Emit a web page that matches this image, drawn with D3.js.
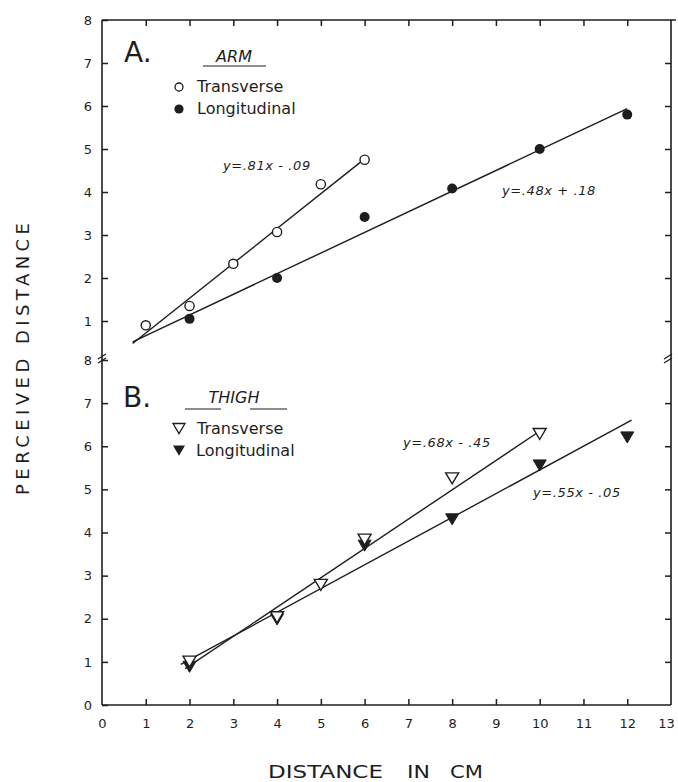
<!DOCTYPE html>
<html>
<head>
<meta charset="utf-8">
<script src="https://cdn.jsdelivr.net/npm/d3@7"></script>
<style>
  html, body { margin: 0; padding: 0; background: #fff; }
  svg { display: block; }
  text { font-family: "DejaVu Sans", sans-serif; fill: #1e1e1e; }
</style>
</head>
<body>
<svg id="chart" width="678" height="782"></svg>
<script>
// ---------- data ----------
const xTickValues = d3.range(0, 14);
const yTicksTop = [1, 2, 3, 4, 5, 6, 7, 8];
const yTicksBottom = [0, 1, 2, 3, 4, 5, 6, 7, 8];

// Panel A: ARM
const armTransX = [1, 2, 3, 4, 5, 6];
const armTransY = [0.9, 1.35, 2.33, 3.07, 4.18, 4.75];
const armLongX = [2, 4, 6, 8, 10, 12];
const armLongY = [1.05, 2.0, 3.42, 4.08, 5.0, 5.8];

// Panel B: THIGH
const thighTransX = [2, 4, 5, 6, 8, 10];
const thighTransY = [1.02, 2.05, 2.8, 3.85, 5.27, 6.3];
const thighLongX = [2, 4, 6, 8, 10, 12];
const thighLongY = [0.9, 2.0, 3.71, 4.32, 5.57, 6.22];

// fitted lines: slope, intercept, x-extent
const armFitSlopes = [0.81, 0.48];
const armFitIntercepts = [-0.09, 0.18];
const armFitFrom = [0.7, 0.7];
const armFitTo = [6.05, 12.0];
const armFitLabels = ["y=.81x - .09", "y=.48x + .18"];

const thighFitSlopes = [0.68, 0.55];
const thighFitIntercepts = [-0.45, -0.05];
const thighFitFrom = [1.9, 1.8];
const thighFitTo = [10.1, 12.1];
const thighFitLabels = ["y=.68x - .45", "y=.55x - .05"];

const seriesNames = ["Transverse", "Longitudinal"];
const xTitleWords = ["DISTANCE", "IN", "CM"];
const yTitle = "PERCEIVED DISTANCE";

// ---------- layout ----------
const ink = "#1e1e1e";
const svg = d3.select("#chart");
const pL = 102, pR = 671, pT = 20, pB = 705;

const x = d3.scaleLinear().domain([0, 13]).range([pL, pR]);
const yA = d3.scaleLinear().domain([0, 8]).range([364, pT]);
const yB = d3.scaleLinear().domain([0, 8]).range([pB, 360]);

// frame
const frame = svg.append("g").attr("stroke", ink).attr("stroke-width", 1.6).attr("fill", "none");
frame.append("line").attr("x1", pL).attr("x2", pL).attr("y1", pT).attr("y2", pB);
frame.append("line").attr("x1", pR).attr("x2", pR).attr("y1", pT).attr("y2", pB);
frame.append("line").attr("x1", pL).attr("x2", pR + 5).attr("y1", pT).attr("y2", pT);
frame.append("line").attr("x1", pL).attr("x2", pR).attr("y1", pB).attr("y2", pB);

// break marks
[pL, pR - 3].forEach(bx => {
  [0, 4].forEach(off => {
    frame.append("line")
      .attr("x1", bx - 4).attr("y1", 359 + off)
      .attr("x2", bx + 4).attr("y2", 354 + off)
      .attr("stroke-width", 1.3);
  });
});

function styleAxis(g) {
  g.select(".domain").remove();
  g.selectAll(".tick line").attr("stroke", ink).attr("stroke-width", 1.5);
  g.selectAll(".tick text").attr("fill", ink).style("font-family", "DejaVu Sans, sans-serif").style("font-size", "13px");
}

// left axes
svg.append("g").attr("transform", `translate(${pL},0)`)
  .call(d3.axisLeft(yA).tickValues(yTicksTop).tickSizeInner(-6).tickSizeOuter(0).tickPadding(10).tickFormat(d3.format("d")))
  .call(styleAxis);
svg.append("g").attr("transform", `translate(${pL},0)`)
  .call(d3.axisLeft(yB).tickValues(yTicksBottom).tickSizeInner(-6).tickSizeOuter(0).tickPadding(10).tickFormat(d3.format("d")))
  .call(styleAxis);

// right axes
svg.append("g").attr("transform", `translate(${pR},0)`)
  .call(d3.axisRight(yA).tickValues(yTicksTop.slice(0, 7)).tickSizeInner(-6).tickSizeOuter(0).tickFormat(""))
  .call(styleAxis);
svg.append("g").attr("transform", `translate(${pR},0)`)
  .call(d3.axisRight(yB).tickValues(yTicksBottom.slice(1, 8)).tickSizeInner(-6).tickSizeOuter(0).tickFormat(""))
  .call(styleAxis);

// bottom axis
svg.append("g").attr("transform", `translate(0,${pB})`)
  .call(d3.axisBottom(x).tickValues(xTickValues).tickSizeInner(-6).tickSizeOuter(0).tickPadding(14).tickFormat(d3.format("d")))
  .call(styleAxis)
  .call(g => g.selectAll(".tick line").filter(d => d === 0 || d === 13).remove())
  .call(g => g.selectAll(".tick text").filter(d => d === 13).attr("dx", -5));

// top axis
svg.append("g").attr("transform", `translate(0,${pT})`)
  .call(d3.axisTop(x).tickValues(xTickValues.slice(1, 13)).tickSizeInner(-6).tickSizeOuter(0).tickFormat(""))
  .call(styleAxis);

// titles
svg.append("text")
  .attr("transform", `translate(29,359) rotate(-90)`)
  .attr("text-anchor", "middle")
  .attr("textLength", 272).attr("lengthAdjust", "spacing")
  .style("font-size", "18px")
  .text(yTitle);
const xWordStart = [268, 407, 450];
const xWordLen = [115, 23, 33];
xTitleWords.forEach((w, i) => {
  svg.append("text")
    .attr("x", xWordStart[i]).attr("y", 778)
    .attr("textLength", xWordLen[i]).attr("lengthAdjust", "spacingAndGlyphs")
    .style("font-size", "18px")
    .text(w);
});

// ---------- panels ----------
const triDown = (cx, cy, s) => `M${cx - s},${cy - s * 0.75} L${cx + s},${cy - s * 0.75} L${cx},${cy + s * 0.95} Z`;

function drawFits(yS, slopes, ints, from, to) {
  const line = d3.line().x(d => x(d[0])).y(d => yS(d[1]));
  slopes.forEach((m, i) => {
    const pts = [[from[i], m * from[i] + ints[i]], [to[i], m * to[i] + ints[i]]];
    svg.append("path").attr("d", line(pts)).attr("fill", "none").attr("stroke", ink).attr("stroke-width", 1.4);
  });
}

// Panel A
drawFits(yA, armFitSlopes, armFitIntercepts, armFitFrom, armFitTo);
svg.append("g").selectAll("circle").data(armTransX.map((v, i) => [v, armTransY[i]])).join("circle")
  .attr("cx", d => x(d[0])).attr("cy", d => yA(d[1])).attr("r", 4.6)
  .attr("fill", "#fff").attr("stroke", ink).attr("stroke-width", 1.4);
svg.append("g").selectAll("circle").data(armLongX.map((v, i) => [v, armLongY[i]])).join("circle")
  .attr("cx", d => x(d[0])).attr("cy", d => yA(d[1])).attr("r", 5)
  .attr("fill", ink);

// Panel B
drawFits(yB, thighFitSlopes, thighFitIntercepts, thighFitFrom, thighFitTo);
svg.append("g").selectAll("path").data(thighLongX.map((v, i) => [v, thighLongY[i]])).join("path")
  .attr("d", d => triDown(x(d[0]), yB(d[1]), 6.5))
  .attr("fill", ink).attr("stroke", ink).attr("stroke-width", 1);
svg.append("g").selectAll("path").data(thighTransX.map((v, i) => [v, thighTransY[i]])).join("path")
  .attr("d", d => triDown(x(d[0]), yB(d[1]), 6.5))
  .attr("fill", "#fff").attr("stroke", ink).attr("stroke-width", 1.4);

// panel labels and legends
svg.append("text").attr("x", 124).attr("y", 62).style("font-size", "28px").text("A.");
svg.append("text").attr("x", 123).attr("y", 407).style("font-size", "28px").text("B.");

svg.append("text").attr("x", 234).attr("y", 62).attr("text-anchor", "middle")
  .style("font-size", "16px").style("font-style", "italic").text("ARM");
svg.append("line").attr("x1", 203).attr("x2", 266).attr("y1", 66).attr("y2", 66)
  .attr("stroke", ink).attr("stroke-width", 1.2);

svg.append("text").attr("x", 234).attr("y", 403).attr("text-anchor", "middle")
  .style("font-size", "16px").style("font-style", "italic").text("THIGH");
svg.append("line").attr("x1", 185).attr("x2", 221).attr("y1", 409).attr("y2", 409)
  .attr("stroke", ink).attr("stroke-width", 1.2);
svg.append("line").attr("x1", 250).attr("x2", 287).attr("y1", 409).attr("y2", 409)
  .attr("stroke", ink).attr("stroke-width", 1.2);

// legend A
svg.append("circle").attr("cx", 179).attr("cy", 87).attr("r", 4).attr("fill", "#fff").attr("stroke", ink).attr("stroke-width", 1.3);
svg.append("circle").attr("cx", 179).attr("cy", 109).attr("r", 4.6).attr("fill", ink);
svg.append("text").attr("x", 197).attr("y", 92).style("font-size", "16px").text(seriesNames[0]);
svg.append("text").attr("x", 197).attr("y", 114).style("font-size", "16px").text(seriesNames[1]);

// legend B
svg.append("path").attr("d", triDown(179, 428, 6)).attr("fill", "#fff").attr("stroke", ink).attr("stroke-width", 1.3);
svg.append("path").attr("d", triDown(179, 450, 6)).attr("fill", ink);
svg.append("text").attr("x", 197).attr("y", 434).style("font-size", "16px").text(seriesNames[0]);
svg.append("text").attr("x", 196).attr("y", 456).style("font-size", "16px").text(seriesNames[1]);

// equation labels
function eq(xp, yp, t) {
  svg.append("text").attr("x", xp).attr("y", yp).style("font-size", "13px").style("font-style", "italic")
    .style("letter-spacing", "0.6px").style("white-space", "pre").text(t);
}
eq(223, 170, armFitLabels[0]);
eq(502, 195, armFitLabels[1]);
eq(403, 447, thighFitLabels[0]);
eq(533, 497, thighFitLabels[1]);
</script>
</body>
</html>
